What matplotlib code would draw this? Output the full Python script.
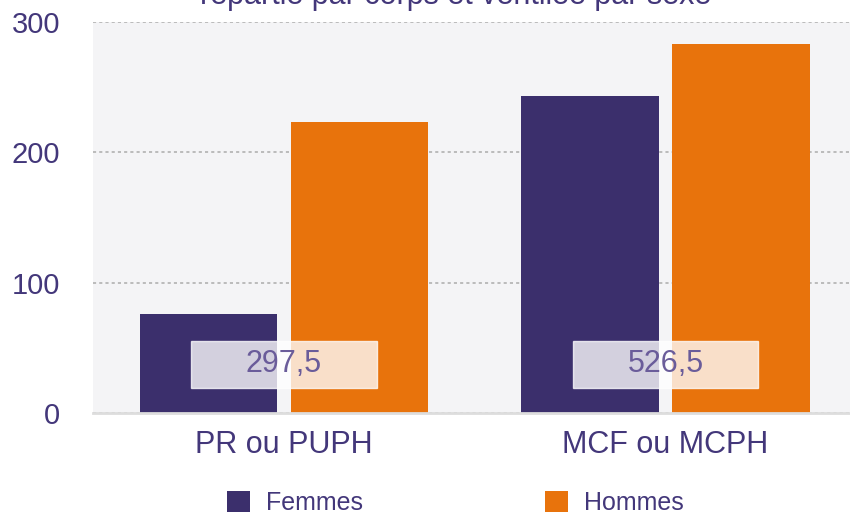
#Bar chart: effectifs repartis par corps et ventiles par sexe
import matplotlib.pyplot as plt
from matplotlib.patches import Rectangle
import numpy as np

plt.rcParams['font.family'] = ['Liberation Sans', 'DejaVu Sans']

#Data
corps = ['PR ou PUPH', 'MCF ou MCPH']
femmes = [76, 243.5]
hommes = [223.5, 283]
totaux = ['297,5', '526,5']

purple = '#3b2f6c'
orange = '#e8730c'
textCol = '#43377a'

fig = plt.figure(figsize=(8.5, 5.17), dpi=100)
ax = fig.add_axes([0.1094, 0.2012, 0.898, 0.7563])
ax.set_facecolor('#f4f4f6')

x = np.arange(len(corps))
w = 0.36
off = 0.198
ax.bar(x - off, femmes, w, color=purple, label='Femmes', zorder=3)
ax.bar(x + off, hommes, w, color=orange, label='Hommes', zorder=3)

#Total labels in a translucent white box over each group
for xi, t in zip(x, totaux):
    ax.add_patch(Rectangle((xi - 0.243, 19.2), 0.486, 36, facecolor='white',
                           edgecolor='#ffffff', alpha=0.78, zorder=4))
    ax.text(xi, 37.2, t, ha='center', va='center', fontsize=22,
            color='#6a5c9a', zorder=5)

ax.set_xlim(-0.5, 1.5)
ax.set_ylim(0, 300)
ax.set_yticks([0, 100, 200, 300])
ax.set_xticks(x)
ax.set_xticklabels(corps)
ax.tick_params(axis='both', length=0, colors=textCol)
ax.tick_params(axis='y', pad=23.5, labelsize=21)
ax.tick_params(axis='x', pad=12, labelsize=22)
ax.yaxis.grid(True, linestyle=(0, (1.6, 1.6)), color='#bbbbbb', linewidth=1.4, zorder=1)
ax.set_axisbelow(True)
for s in ['top', 'right', 'left']:
    ax.spines[s].set_visible(False)
ax.spines['bottom'].set_color('#dddddd')
ax.spines['bottom'].set_linewidth(2)
ax.spines['bottom'].set_zorder(6)

#Title line is partly cut by the top edge, as in the original
fig.text(0.536, 0.992, 'répartie par corps et ventilée par sexe', ha='center',
         va='baseline', fontsize=22, color=textCol)

fig.legend(loc='lower center', bbox_to_anchor=(0.536, -0.04), ncol=2, frameon=False,
           fontsize=18, labelcolor=textCol, handlelength=0.9, handleheight=0.9,
           columnspacing=7.3, handletextpad=0.65)

fig.savefig('out.png', dpi=100)
